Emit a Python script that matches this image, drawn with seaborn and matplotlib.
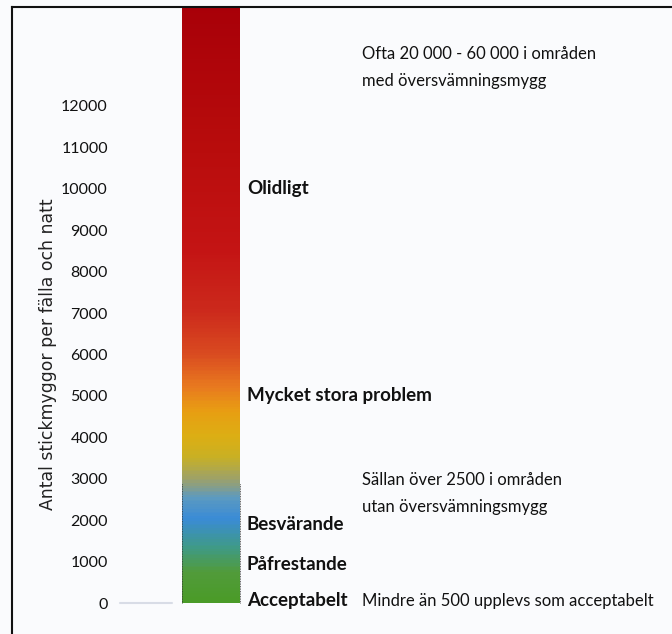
import numpy as np
import matplotlib
matplotlib.use("Agg")
import matplotlib.pyplot as plt
import seaborn as sns
from matplotlib.colors import LinearSegmentedColormap

sns.set_style("white")
plt.rcParams['font.family'] = ['Lato', 'DejaVu Sans']

# colour scale of the bar (antal stickmyggor -> colour)
stop_values = [0, 700, 1300, 2000, 2500, 2900, 3500, 4000, 4600, 5200, 6000, 7000, 8500, 11000, 14400]
stop_colors = ['#4a9b28', '#519b3a', '#3f9a86', '#3a8bd6', '#5c9ac0', '#98a070', '#c9b023',
               '#dcae14', '#e89e12', '#e8791f', '#d94a20', '#cc2a1c', '#c41414', '#b80c0c', '#a80008']

ticks = [0, 1000, 2000, 3000, 4000, 5000, 6000, 7000, 8000, 9000, 10000, 11000, 12000]

levels = ['Acceptabelt', 'Påfrestande', 'Besvärande', 'Mycket stora problem', 'Olidligt']
level_values = [70, 920, 1900, 5000, 10000]

notes = ['Ofta 20 000 - 60 000 i områden\nmed översvämningsmygg',
         'Sällan över 2500 i områden\nutan översvämningsmygg',
         'Mindre än 500 upplevs som acceptabelt']
note_values = [12930, 2640, 50]

ylabel = 'Antal stickmyggor per fälla och natt'

fig = plt.figure(figsize=(6.72, 6.34), dpi=100, facecolor='#fafbfd')
ax = fig.add_axes([12 / 672, 0, 1 - 12 / 672, 627 / 634])
ax.set_facecolor('#fafbfd')
ax.set_xlim(12, 672)
ax.set_ylim(-748, 14389)

# gradient bar
cmap = LinearSegmentedColormap.from_list(
    'mygg', list(zip(np.array(stop_values) / stop_values[-1], stop_colors)))
yy = np.linspace(0, stop_values[-1], 400)
ax.pcolormesh([182, 240], yy, yy[:-1].reshape(-1, 1), cmap=cmap,
              vmin=0, vmax=stop_values[-1], shading='flat')
ax.plot([182, 182], [0, 2900], color='#333333', lw=0.6, ls=(0, (1, 1)))
ax.plot([240, 240], [0, 2900], color='#333333', lw=0.6, ls=(0, (1, 1)))
ax.plot([120, 172], [0, 0], color='#d8dce6', lw=1.5)

# axis
ax.set_yticks(ticks)
ax.set_yticklabels([str(t) for t in ticks], fontsize=11.5)
ax.tick_params(axis='y', length=0, pad=-69, labelcolor='#111111')
for lab in ax.get_yticklabels():
    lab.set_horizontalalignment('right')
ax.set_xticks([])
ax.set_ylabel(ylabel, fontsize=12.4, family='DejaVu Sans', color='#222222')
ax.yaxis.set_label_coords(45 / 660, 0.5 + (6000 - (14389 - 748) / 2) / (14389 + 748))

for s in ['right', 'bottom']:
    ax.spines[s].set_visible(False)
for s in ['left', 'top']:
    ax.spines[s].set_color('#111111')
    ax.spines[s].set_linewidth(1.5)

for name, v in zip(levels, level_values):
    ax.text(247, v, name, fontsize=13.5, fontweight='bold', va='center', ha='left', color='#111111')

for note, v in zip(notes, note_values):
    ax.text(362, v, note, fontsize=12, va='center', ha='left', color='#111111', linespacing=1.85)

fig.savefig('out.png', dpi=100, facecolor=fig.get_facecolor())
